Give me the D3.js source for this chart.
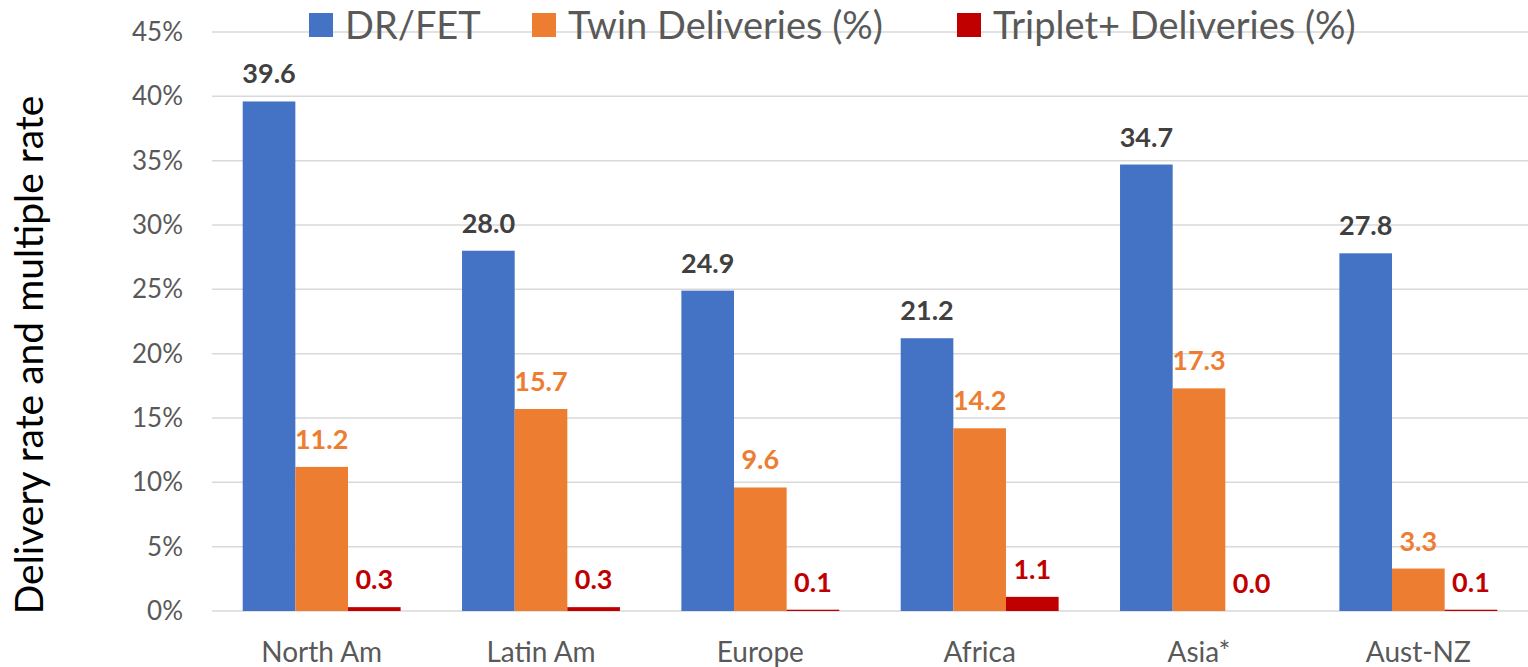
<!DOCTYPE html>
<html>
<head>
<meta charset="utf-8">
<script src="https://cdn.jsdelivr.net/npm/d3@7"></script>
<style>
  body { margin: 0; background: #fff; }
  svg { display: block; font-family: Lato, "Open Sans", sans-serif; }
</style>
</head>
<body>
<svg id="chart" width="1528" height="667"></svg>
<script>
// chart data
var regions = ["North Am", "Latin Am", "Europe", "Africa", "Asia*", "Aust-NZ"];
var seriesNames = ["DR/FET", "Twin Deliveries (%)", "Triplet+ Deliveries (%)"];
var drFet = [39.6, 28.0, 24.9, 21.2, 34.7, 27.8];
var twins = [11.2, 15.7, 9.6, 14.2, 17.3, 3.3];
var triplets = [0.3, 0.3, 0.1, 1.1, 0.0, 0.1];
var yTicks = [0, 5, 10, 15, 20, 25, 30, 35, 40, 45];

var colors = ["#4472C4", "#ED7D31", "#C00000"];
var labelColors = ["#404040", "#ED7D31", "#C00000"];

var svg = d3.select("#chart");
var plotLeft = 212, plotRight = 1528, plotTop = 32, plotBottom = 611;

var x = d3.scaleBand().domain(regions).range([plotLeft, plotRight])
  .paddingInner(0.28).paddingOuter(0.14);
var xs = d3.scaleBand().domain([0, 1, 2]).range([0, x.bandwidth()]);
var y = d3.scaleLinear().domain([0, 45]).range([plotBottom, plotTop]);

// gridlines
svg.append("g").selectAll("line")
  .data(yTicks)
  .enter().append("line")
  .attr("x1", plotLeft).attr("x2", plotRight)
  .attr("y1", function(d) { return y(d); })
  .attr("y2", function(d) { return y(d); })
  .attr("stroke", "#d9d9d9")
  .attr("stroke-width", 1.5);

// y tick labels
svg.append("g").selectAll("text")
  .data(yTicks)
  .enter().append("text")
  .attr("x", 183)
  .attr("y", function(d) { return y(d); })
  .attr("dy", "0.35em")
  .attr("text-anchor", "end")
  .attr("fill", "#595959")
  .style("font-size", "26px")
  .text(function(d) { return d + "%"; });

// y title
svg.append("text")
  .attr("transform", "translate(43,355) rotate(-90)")
  .attr("text-anchor", "middle")
  .attr("fill", "#000")
  .style("font-size", "39px")
  .text("Delivery rate and multiple rate");

// bars
var series = [drFet, twins, triplets];
var rows = [];
series.forEach(function(vals, s) {
  vals.forEach(function(v, i) {
    rows.push({ region: regions[i], s: s, value: v });
  });
});

svg.append("g").selectAll("rect")
  .data(rows)
  .enter().append("rect")
  .attr("x", function(d) { return x(d.region) + xs(d.s); })
  .attr("width", xs.bandwidth())
  .attr("y", function(d) { return y(d.value); })
  .attr("height", function(d) { return y(0) - y(d.value); })
  .attr("fill", function(d) { return colors[d.s]; });

// value labels
svg.append("g").selectAll("text")
  .data(rows)
  .enter().append("text")
  .attr("x", function(d) { return x(d.region) + xs(d.s) + xs.bandwidth() / 2; })
  .attr("y", function(d) { return y(d.value) - 18; })
  .attr("text-anchor", "middle")
  .attr("fill", function(d) { return labelColors[d.s]; })
  .style("font-size", "27px")
  .style("font-weight", "bold")
  .text(function(d) { return d.value.toFixed(1); });

// x labels
svg.append("g").selectAll("text")
  .data(regions)
  .enter().append("text")
  .attr("x", function(d) { return x(d) + x.bandwidth() / 2; })
  .attr("y", 662)
  .attr("text-anchor", "middle")
  .attr("fill", "#595959")
  .style("font-size", "28px")
  .text(function(d) { return d; });

// legend
var legendX = [309, 532, 957];
var legend = svg.append("g").selectAll("g")
  .data(seriesNames)
  .enter().append("g")
  .attr("transform", function(d, i) { return "translate(" + legendX[i] + ",13)"; });
legend.append("rect")
  .attr("width", 24).attr("height", 24)
  .attr("fill", function(d, i) { return colors[i]; });
legend.append("text")
  .attr("x", 36).attr("y", 12)
  .attr("dy", "0.36em")
  .attr("fill", "#595959")
  .style("font-size", "38px")
  .text(function(d) { return d; });
</script>
</body>
</html>
